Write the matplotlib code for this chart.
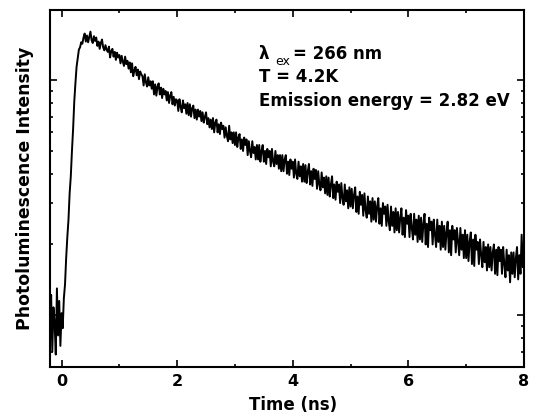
import numpy as np
import matplotlib
matplotlib.use("Agg")
import matplotlib.pyplot as plt
from matplotlib.ticker import LogLocator, MultipleLocator, NullFormatter

# photoluminescence decay, values (arb. units, log axis)
# one value every 0.02 ns from -0.2 ns to 8.0 ns
intensity = [
    # baseline before the pulse
    0.85, 1.22, 0.70, 1.08, 0.93, 0.68, 1.30, 0.82, 1.15, 0.74,
    1.02, 0.88, 1.18,
    # rise
    1.35, 1.75, 2.15, 2.55, 3.3, 3.9, 5.0, 6.2, 8.1, 9.7,
    11.4, 12.4, 13.5, 13.8, 14.5, 14.3, 15.2,
    # decay
    15.8, 14.6, 15.5, 14.5, 15.3, 16.1, 14.8, 14.4, 15.4, 14.7,
    15.2, 14.0, 14.6, 13.6, 14.4, 14.9, 13.8, 13.4, 14.1, 13.5,
    13.2, 13.9, 12.5, 13.3, 13.6, 12.6, 13.2, 12.2, 13.1, 12.5,
    12.8, 11.8, 12.7, 12.0, 11.5, 12.6, 11.7, 12.1, 11.2, 11.9,
    10.8, 11.8, 10.4, 11.0, 11.4, 10.5, 11.1, 10.1, 10.9, 10.6,
    10.4, 9.5, 10.6, 9.8, 9.4, 10.3, 9.5, 9.9, 9.2, 9.9,
    8.7, 9.6, 8.6, 9.4, 9.7, 8.7, 9.3, 8.4, 9.2, 8.7,
    9.0, 8.2, 8.9, 8.0, 8.6, 8.9, 7.9, 8.5, 7.8, 8.3,
    8.2, 7.4, 8.3, 7.7, 7.3, 8.2, 7.6, 7.9, 7.2, 8.0,
    7.1, 7.9, 7.0, 7.6, 7.8, 6.9, 7.5, 6.8, 7.5, 7.0,
    7.4, 6.7, 7.3, 6.6, 7.0, 7.3, 6.5, 6.9, 6.3, 6.8,
    6.2, 6.9, 6.0, 6.6, 6.8, 6.0, 6.5, 5.9, 6.6, 6.2,
    6.4, 5.7, 6.3, 5.8, 5.5, 6.4, 5.6, 6.0, 5.4, 6.0,
    5.3, 6.0, 5.2, 5.7, 5.9, 5.1, 5.6, 5.0, 5.7, 5.3,
    5.6, 4.8, 5.5, 5.0, 4.7, 5.5, 4.9, 5.2, 4.6, 5.3,
    4.6, 5.3, 4.5, 5.0, 5.3, 4.5, 5.0, 4.4, 5.1, 4.7,
    5.0, 4.3, 5.1, 4.5, 4.3, 5.0, 4.4, 4.8, 4.2, 4.8,
    4.1, 4.8, 4.1, 4.6, 4.8, 4.0, 4.5, 3.95, 4.6, 4.2,
    4.5, 3.85, 4.6, 4.0, 3.8, 4.5, 3.9, 4.3, 3.7, 4.4,
    3.7, 4.35, 3.65, 4.1, 4.4, 3.6, 4.1, 3.55, 4.2, 3.8,
    4.15, 3.45, 4.1, 3.6, 3.4, 4.05, 3.5, 3.85, 3.3, 3.9,
    3.25, 3.85, 3.2, 3.6, 3.9, 3.15, 3.6, 3.1, 3.7, 3.35,
    3.6, 3.0, 3.65, 3.15, 2.95, 3.6, 3.05, 3.4, 2.85, 3.5,
    2.9, 3.45, 2.85, 3.25, 3.5, 2.75, 3.2, 2.7, 3.35, 2.95,
    3.25, 2.65, 3.3, 2.8, 2.6, 3.2, 2.7, 3.05, 2.5, 3.15,
    2.55, 3.05, 2.5, 2.9, 3.15, 2.45, 2.85, 2.4, 3.0, 2.7,
    2.9, 2.4, 2.95, 2.5, 2.3, 2.9, 2.4, 2.75, 2.25, 2.85,
    2.3, 2.75, 2.25, 2.6, 2.85, 2.2, 2.6, 2.15, 2.8, 2.45,
    2.65, 2.15, 2.7, 2.35, 2.1, 2.7, 2.2, 2.55, 2.05, 2.65,
    2.1, 2.6, 2.05, 2.45, 2.7, 2.0, 2.45, 1.95, 2.6, 2.3,
    2.5, 2.0, 2.55, 2.2, 1.95, 2.55, 2.05, 2.4, 1.9, 2.5,
    1.95, 2.4, 1.9, 2.25, 2.5, 1.85, 2.3, 1.8, 2.4, 2.1,
    2.3, 1.85, 2.35, 2.05, 1.8, 2.35, 1.9, 2.2, 1.75, 2.3,
    1.75, 2.2, 1.7, 2.05, 2.25, 1.65, 2.1, 1.62, 2.2, 1.9,
    2.05, 1.65, 2.1, 1.8, 1.6, 2.05, 1.68, 1.95, 1.55, 2.0,
    1.6, 1.95, 1.55, 1.85, 2.0, 1.5, 1.9, 1.48, 1.95, 1.7,
    1.9, 1.5, 1.95, 1.65, 1.45, 1.9, 1.55, 1.8, 1.38, 1.85,
    1.5, 1.85, 1.45, 1.75, 1.95, 1.42, 1.8, 1.5, 2.2, 1.6,
    1.7,
]
t_start, t_end = -0.2, 8.0
time_ns = np.linspace(t_start, t_end, len(intensity))

x_ticks = [0, 2, 4, 6, 8]
info_lines = ["T = 4.2K", "Emission energy = 2.82 eV"]

fig = plt.figure(figsize=(5.34, 4.14), dpi=100)
ax = fig.add_axes([0.0936, 0.1104, 0.8876, 0.863])

ax.plot(time_ns, intensity, color="black", lw=1.4)

ax.set_yscale("log")
ax.set_xlim(-0.2, 8)
ax.set_ylim(0.6, 19.9)

ax.set_xticks(x_ticks)
ax.set_xticklabels([str(v) for v in x_ticks], fontsize=11.5, fontweight="bold")
ax.xaxis.set_minor_locator(MultipleLocator(1))
ax.yaxis.set_major_locator(LogLocator(base=10))
ax.yaxis.set_minor_locator(LogLocator(base=10, subs=np.arange(2, 10)))
ax.yaxis.set_major_formatter(NullFormatter())
ax.yaxis.set_minor_formatter(NullFormatter())
ax.tick_params(which="both", direction="in", top=True, right=True, width=1.2)
ax.tick_params(which="major", length=5, pad=4)
ax.tick_params(which="minor", length=2.5)
for s in ax.spines.values():
    s.set_linewidth(1.5)

ax.set_xlabel("Time (ns)", fontsize=12, fontweight="bold")
ax.set_ylabel("Photoluminescence Intensity", fontsize=12.4, fontweight="bold")
ax.xaxis.set_label_coords(0.513, -0.078)
ax.yaxis.set_label_coords(-0.034, 0.503)

# annotation block
ax.text(0.4405, 0.865, "\u03bb", transform=ax.transAxes, fontsize=12,
        fontweight="bold", va="baseline")
ax.text(0.4747, 0.85, "ex", transform=ax.transAxes, fontsize=9, va="baseline")
ax.text(0.512, 0.865, "= 266 nm", transform=ax.transAxes, fontsize=12,
        fontweight="bold", va="baseline")
ax.text(0.4405, 0.800, info_lines[0], transform=ax.transAxes, fontsize=12,
        fontweight="bold", va="baseline")
ax.text(0.4405, 0.734, info_lines[1], transform=ax.transAxes, fontsize=12,
        fontweight="bold", va="baseline")

fig.savefig("out.png", dpi=100)
